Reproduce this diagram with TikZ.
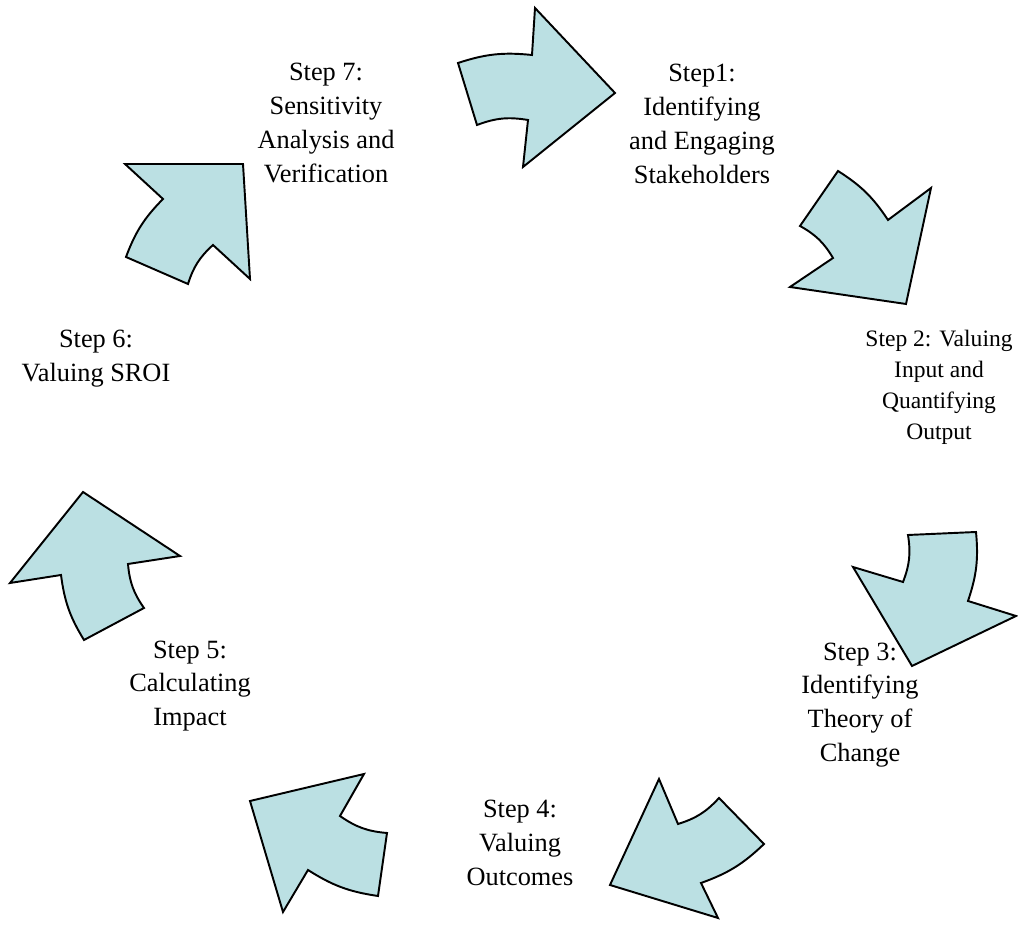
\documentclass[tikz,border=0pt]{standalone}
\usepackage{fontspec}
\setmainfont{Liberation Serif}
\definecolor{arrowfill}{RGB}{187,224,227}
\tikzset{
	cyclearrow/.style={draw=black,fill=arrowfill,line width=1.1pt,line join=miter},
	steptext/.style={align=center,inner sep=0pt,font=\fontsize{15}{19.3}\selectfont},
}
\begin{document}
\begin{tikzpicture}[x=0.02cm,y=0.02cm]
	\useasboundingbox (0,0) rectangle (1018,929);

	% Arrows of the cycle (outer edge, head, inner edge)
	\draw[cyclearrow] (458,866) to[bend left=12] (532,874) -- (535,921) -- (615,836) -- (523,762) -- (528,809) to[bend right=15] (477,804) -- cycle;
	\draw[cyclearrow] (838,758) to[bend left=12] (888,709) -- (931,741) -- (906,625) -- (790,642) -- (833,671) to[bend right=15] (800,703) -- cycle;
	\draw[cyclearrow] (976,397) to[bend left=12] (968,328) -- (1016,313) -- (912,263) -- (853,362) -- (903,347) to[bend right=15] (908,394) -- cycle;
	\draw[cyclearrow] (764,85) to[bend left=12] (701,46) -- (718,11) -- (610,44) -- (659,150) -- (678,105) to[bend right=15] (719,131) -- cycle;
	\draw[cyclearrow] (378,33) to[bend left=12] (308,59) -- (283,17) -- (250,128) -- (364,155) -- (340,113) to[bend right=15] (387,96) -- cycle;
	\draw[cyclearrow] (84,289) to[bend left=12] (61,354) -- (10,346) -- (83,437) -- (180,373) -- (128,365) to[bend right=15] (144,321) -- cycle;
	\draw[cyclearrow] (126,672) to[bend left=12] (163,730) -- (125,765) -- (243,765) -- (250,650) -- (213,684) to[bend right=15] (188,645) -- cycle;

	% Step labels
	\node[steptext] (step1) at (702,805) {Step1:\\Identifying\\and Engaging\\Stakeholders};
	\node[steptext,font=\fontsize{13.4}{17.6}\selectfont] (step2) at (939,542) {Step 2: Valuing\\Input and\\Quantifying\\Output};
	\node[steptext] (step3) at (860,224) {Step 3:\\Identifying\\Theory of\\Change};
	\node[steptext] (step4) at (520,86) {Step 4:\\Valuing\\Outcomes};
	\node[steptext] (step5) at (190,243) {Step 5:\\Calculating\\Impact};
	\node[steptext] (step6) at (96,570) {Step 6:\\Valuing SROI};
	\node[steptext] (step7) at (326,806) {Step 7:\\Sensitivity\\Analysis and\\Verification};
\end{tikzpicture}
\end{document}
